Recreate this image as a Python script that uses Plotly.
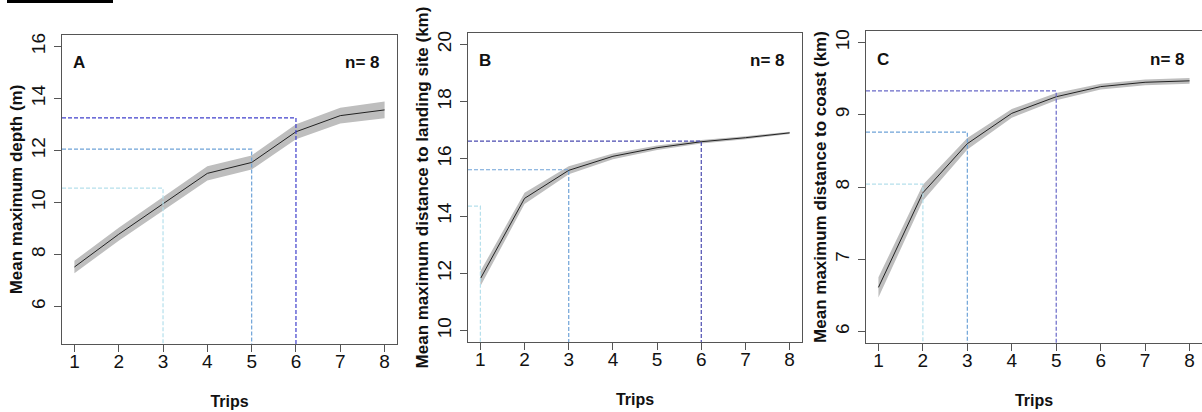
import plotly.graph_objects as go

W, H = 1202, 412

trips = [1, 2, 3, 4, 5, 6, 7, 8]

# panel A: mean maximum depth (m)
depth_mean = [7.52, 8.78, 9.95, 11.12, 11.54, 12.72, 13.34, 13.56]
depth_ci = [0.24, 0.25, 0.26, 0.27, 0.27, 0.29, 0.30, 0.32]
depth_refs = [(3, 10.55, "#b5e0ec"), (5, 12.05, "#6fa3d8"), (6, 13.25, "#4040cc")]

# panel B: mean maximum distance to landing site (km)
land_mean = [11.81, 14.62, 15.60, 16.09, 16.39, 16.60, 16.74, 16.91]
land_ci = [0.26, 0.20, 0.14, 0.10, 0.08, 0.06, 0.05, 0.04]
land_refs = [(1, 14.35, "#b5e0ec"), (3, 15.62, "#6fa3d8"), (6, 16.62, "#4b4bb0")]

# panel C: mean maximum distance to coast (km)
coast_mean = [6.61, 7.92, 8.60, 9.02, 9.25, 9.39, 9.45, 9.47]
coast_ci = [0.14, 0.11, 0.08, 0.06, 0.05, 0.04, 0.04, 0.04]
coast_refs = [(2, 8.04, "#b5e0ec"), (3, 8.76, "#6fa3d8"), (5, 9.33, "#6a6ac8")]

panels = [
    dict(letter="A", mean=depth_mean, ci=depth_ci, refs=depth_refs, ylim=(5, 16),
         ytitle="Mean maximum depth (m)", px=(62, 397), py=(35, 344)),
    dict(letter="B", mean=land_mean, ci=land_ci, refs=land_refs, ylim=(10, 20),
         ytitle="Mean maximum distance to landing site (km)", px=(468, 802), py=(33, 342)),
    dict(letter="C", mean=coast_mean, ci=coast_ci, refs=coast_refs, ylim=(6, 10),
         ytitle="Mean maximum distance to coast (km)", px=(866, 1202), py=(31, 343)),
]

fig = go.Figure()

def ext(lo, hi):
    # R style 4% axis extension
    d = (hi - lo) * 0.04
    return [lo - d, hi + d]

FONT = "Liberation Sans, Arial"

for k, p in enumerate(panels):
    n = k + 1
    xa = "x" if n == 1 else f"x{n}"
    ya = "y" if n == 1 else f"y{n}"
    xr = ext(1, 8)
    yr = ext(*p["ylim"])

    upper = [m + c for m, c in zip(p["mean"], p["ci"])]
    lower = [m - c for m, c in zip(p["mean"], p["ci"])]
    fig.add_trace(go.Scatter(x=trips + trips[::-1], y=upper + lower[::-1], fill="toself",
                             fillcolor="#bebebe", line=dict(width=0), mode="lines",
                             showlegend=False, hoverinfo="skip", xaxis=xa, yaxis=ya))
    fig.add_trace(go.Scatter(x=trips, y=p["mean"], mode="lines",
                             line=dict(color="#222222", width=1),
                             showlegend=False, xaxis=xa, yaxis=ya))

    # dashed reference lines from the left edge to the trip, then down
    for tx, ty, col in p["refs"]:
        fig.add_trace(go.Scatter(x=[xr[0], tx, tx], y=[ty, ty, yr[0]], mode="lines",
                                 line=dict(color=col, width=1.2, dash="4px,2px"),
                                 showlegend=False, hoverinfo="skip", xaxis=xa, yaxis=ya))

    dx = [p["px"][0] / W, min(p["px"][1] / W, 1)]
    dy = [(H - p["py"][1]) / H, (H - p["py"][0]) / H]
    axis_common = dict(showline=True, mirror=True, linecolor="#555555", linewidth=1,
                       ticks="outside", ticklen=7, tickcolor="#555555", showgrid=False,
                       zeroline=False, automargin=False,
                       tickfont=dict(family=FONT, size=19, color="#111111"))
    fig.layout[f"xaxis{'' if n == 1 else n}"] = dict(
        domain=dx, range=xr, anchor=ya, tickvals=trips, ticklabelstandoff=-7,
        title=dict(text="<b>Trips</b>", standoff=25,
                   font=dict(family=FONT, size=16, color="#111111")),
        **axis_common)
    fig.layout[f"yaxis{'' if n == 1 else n}"] = dict(
        domain=dy, range=yr, anchor=xa, dtick=2 if n < 3 else 1, tickangle=-90,
        ticklabelstandoff=1,
        title=dict(text=f"<b>{p['ytitle']}</b>", standoff=1,
                   font=dict(family=FONT, size=17, color="#111111")),
        **axis_common)

    fig.add_annotation(text=f"<b>{p['letter']}</b>", xref=f"{xa} domain", yref=f"{ya} domain",
                       x=0.026, y=0.91, xanchor="left", yanchor="middle", showarrow=False,
                       font=dict(family=FONT, size=17, color="#111111"))
    fig.add_annotation(text="<b>n= 8</b>", xref=f"{xa} domain", yref=f"{ya} domain",
                       x=0.955, y=0.91, xanchor="right", yanchor="middle", showarrow=False,
                       font=dict(family=FONT, size=17, color="#111111"))

# black bar cut off at top-left of the original figure
fig.add_shape(type="rect", xref="paper", yref="paper", x0=7 / W, x1=113 / W,
              y0=1 - 3 / H, y1=1, fillcolor="black", line=dict(width=0))

fig.update_layout(width=W, height=H, margin=dict(l=0, r=0, t=0, b=0),
                  paper_bgcolor="white", plot_bgcolor="white")

# drop the browser's default body margin so the figure sits at the page corner
fig.write_html("out.html", config={"displayModeBar": False},
               post_script="document.body.style.margin='0';document.body.style.overflow='hidden';")
